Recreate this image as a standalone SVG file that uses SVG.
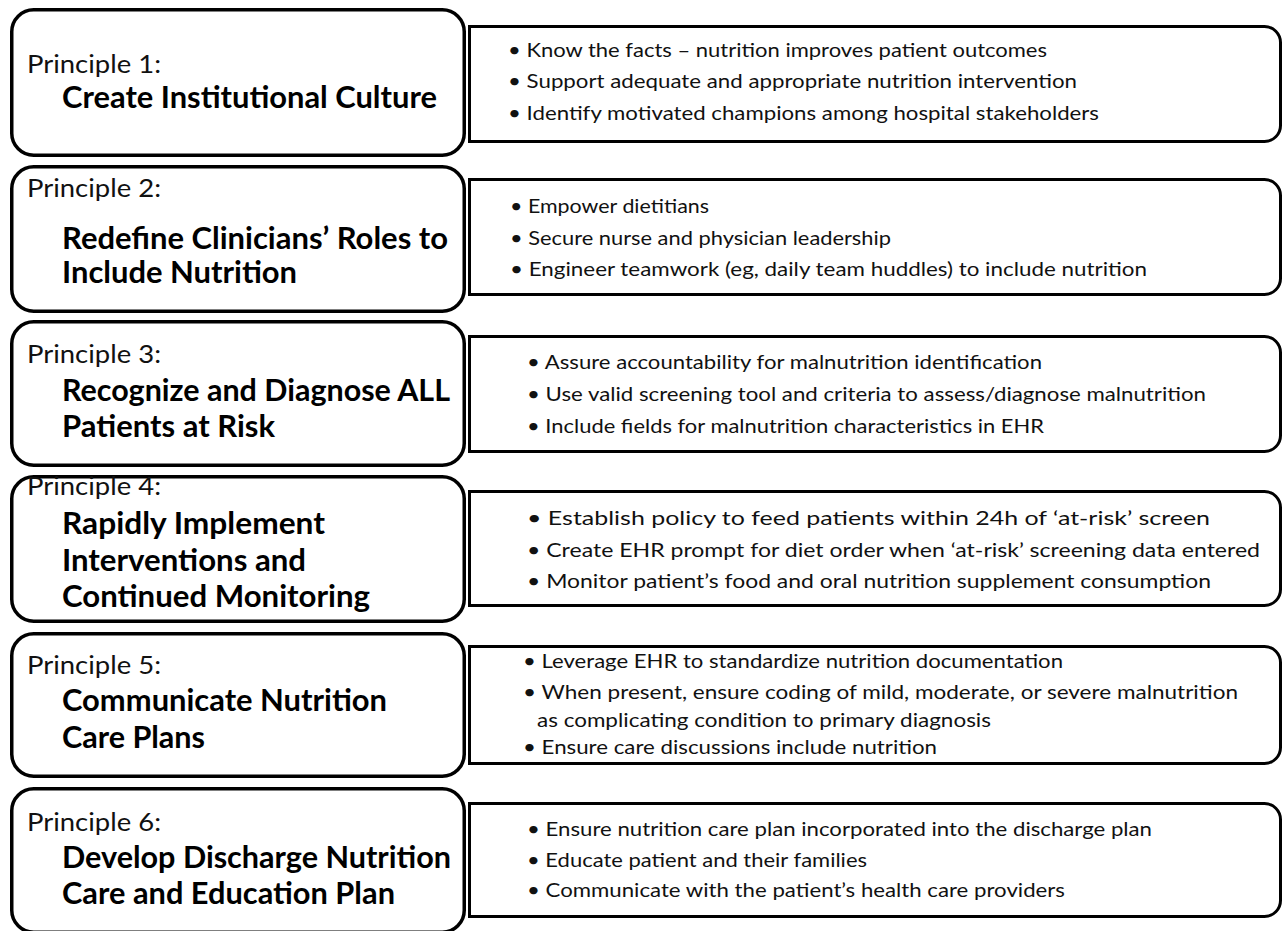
<svg xmlns="http://www.w3.org/2000/svg" width="1285" height="931" viewBox="0 0 1285 931">
<style>
.lbox{fill:#fff;stroke:#000;stroke-width:3.5}
.rbox{fill:#fff;stroke:#000;stroke-width:3}
.pl{font-family:Lato,"Liberation Sans",sans-serif;font-size:25px;fill:#111}
.tt{font-family:Lato,"Liberation Sans",sans-serif;font-size:30px;font-weight:bold;fill:#000}
.bl{font-family:Lato,"Liberation Sans",sans-serif;font-size:20px;fill:#111}
</style>
<rect width="1285" height="931" fill="#fff"/>

<g id="principle1">
<path class="rbox" d="M469.5,26.5 H1264.5 A16 16 0 0 1 1280.5,42.5 V125.5 A16 16 0 0 1 1264.5,141.5 H469.5 Z"/>
<rect class="lbox" x="11.75" y="9.75" width="452.5" height="145.5" rx="22"/>
<text class="pl" x="27" y="73" textLength="134" lengthAdjust="spacingAndGlyphs">Principle 1:</text>
<text class="tt" x="62" y="108" textLength="375" lengthAdjust="spacingAndGlyphs">Create Institutional Culture</text>
<text class="bl" x="508" y="57" textLength="539" lengthAdjust="spacingAndGlyphs">• Know the facts – nutrition improves patient outcomes</text>
<text class="bl" x="508" y="88" textLength="569" lengthAdjust="spacingAndGlyphs">• Support adequate and appropriate nutrition intervention</text>
<text class="bl" x="508" y="120" textLength="591" lengthAdjust="spacingAndGlyphs">• Identify motivated champions among hospital stakeholders</text>
</g>

<g id="principle2">
<path class="rbox" d="M469.5,179.5 H1264.5 A16 16 0 0 1 1280.5,195.5 V278.5 A16 16 0 0 1 1264.5,294.5 H469.5 Z"/>
<rect class="lbox" x="11.75" y="166.75" width="452.5" height="144.5" rx="22"/>
<text class="pl" x="27" y="197" textLength="134" lengthAdjust="spacingAndGlyphs">Principle 2:</text>
<text class="tt" x="62" y="249" textLength="386" lengthAdjust="spacingAndGlyphs">Redefine Clinicians’ Roles to</text>
<text class="tt" x="62" y="283" textLength="235" lengthAdjust="spacingAndGlyphs">Include Nutrition</text>
<text class="bl" x="510" y="213" textLength="199" lengthAdjust="spacingAndGlyphs">• Empower dietitians</text>
<text class="bl" x="510" y="245" textLength="381" lengthAdjust="spacingAndGlyphs">• Secure nurse and physician leadership</text>
<text class="bl" x="510" y="276" textLength="637" lengthAdjust="spacingAndGlyphs">• Engineer teamwork (eg, daily team huddles) to include nutrition</text>
</g>

<g id="principle3">
<path class="rbox" d="M469.5,336.5 H1264.5 A16 16 0 0 1 1280.5,352.5 V435.5 A16 16 0 0 1 1264.5,451.5 H469.5 Z"/>
<rect class="lbox" x="11.75" y="321.75" width="452.5" height="143.5" rx="22"/>
<text class="pl" x="27" y="363" textLength="134" lengthAdjust="spacingAndGlyphs">Principle 3:</text>
<text class="tt" x="62" y="401" textLength="388" lengthAdjust="spacingAndGlyphs">Recognize and Diagnose ALL</text>
<text class="tt" x="62" y="437" textLength="213" lengthAdjust="spacingAndGlyphs">Patients at Risk</text>
<text class="bl" x="527" y="369" textLength="515" lengthAdjust="spacingAndGlyphs">• Assure accountability for malnutrition identification</text>
<text class="bl" x="527" y="401" textLength="679" lengthAdjust="spacingAndGlyphs">• Use valid screening tool and criteria to assess/diagnose malnutrition</text>
<text class="bl" x="527" y="433" textLength="517" lengthAdjust="spacingAndGlyphs">• Include fields for malnutrition characteristics in EHR</text>
</g>

<g id="principle4">
<path class="rbox" d="M469.5,491.5 H1264.5 A16 16 0 0 1 1280.5,507.5 V589.5 A16 16 0 0 1 1264.5,605.5 H469.5 Z"/>
<rect class="lbox" x="11.75" y="476.75" width="452.5" height="144.5" rx="22"/>
<text class="pl" x="27" y="495" textLength="134" lengthAdjust="spacingAndGlyphs">Principle 4:</text>
<text class="tt" x="62" y="534" textLength="263" lengthAdjust="spacingAndGlyphs">Rapidly Implement</text>
<text class="tt" x="62" y="571" textLength="244" lengthAdjust="spacingAndGlyphs">Interventions and</text>
<text class="tt" x="62" y="607" textLength="308" lengthAdjust="spacingAndGlyphs">Continued Monitoring</text>
<text class="bl" x="527" y="525" textLength="683" lengthAdjust="spacingAndGlyphs">• Establish policy to feed patients within 24h of ‘at-risk’ screen</text>
<text class="bl" x="527" y="557" textLength="733" lengthAdjust="spacingAndGlyphs">• Create EHR prompt for diet order when ‘at-risk’ screening data entered</text>
<text class="bl" x="527" y="588" textLength="684" lengthAdjust="spacingAndGlyphs">• Monitor patient’s food and oral nutrition supplement consumption</text>
</g>

<g id="principle5">
<path class="rbox" d="M469.5,646.5 H1264.5 A16 16 0 0 1 1280.5,662.5 V747.5 A16 16 0 0 1 1264.5,763.5 H469.5 Z"/>
<rect class="lbox" x="11.75" y="633.75" width="452.5" height="142.5" rx="22"/>
<text class="pl" x="27" y="674" textLength="134" lengthAdjust="spacingAndGlyphs">Principle 5:</text>
<text class="tt" x="62" y="711" textLength="325" lengthAdjust="spacingAndGlyphs">Communicate Nutrition</text>
<text class="tt" x="62" y="748" textLength="143" lengthAdjust="spacingAndGlyphs">Care Plans</text>
<text class="bl" x="523" y="668" textLength="540" lengthAdjust="spacingAndGlyphs">• Leverage EHR to standardize nutrition documentation</text>
<text class="bl" x="523" y="699" textLength="715" lengthAdjust="spacingAndGlyphs">• When present, ensure coding of mild, moderate, or severe malnutrition</text>
<text class="bl" x="537" y="727" textLength="454" lengthAdjust="spacingAndGlyphs">as complicating condition to primary diagnosis</text>
<text class="bl" x="523" y="754" textLength="414" lengthAdjust="spacingAndGlyphs">• Ensure care discussions include nutrition</text>
</g>

<g id="principle6">
<path class="rbox" d="M469.5,803.5 H1264.5 A16 16 0 0 1 1280.5,819.5 V900.5 A16 16 0 0 1 1264.5,916.5 H469.5 Z"/>
<rect class="lbox" x="11.75" y="788.75" width="452.5" height="143.5" rx="22"/>
<text class="pl" x="27" y="831" textLength="134" lengthAdjust="spacingAndGlyphs">Principle 6:</text>
<text class="tt" x="62" y="868" textLength="389" lengthAdjust="spacingAndGlyphs">Develop Discharge Nutrition</text>
<text class="tt" x="62" y="904" textLength="333" lengthAdjust="spacingAndGlyphs">Care and Education Plan</text>
<text class="bl" x="527" y="836" textLength="625" lengthAdjust="spacingAndGlyphs">• Ensure nutrition care plan incorporated into the discharge plan</text>
<text class="bl" x="527" y="867" textLength="340" lengthAdjust="spacingAndGlyphs">• Educate patient and their families</text>
<text class="bl" x="527" y="897" textLength="538" lengthAdjust="spacingAndGlyphs">• Communicate with the patient’s health care providers</text>
</g>
</svg>
